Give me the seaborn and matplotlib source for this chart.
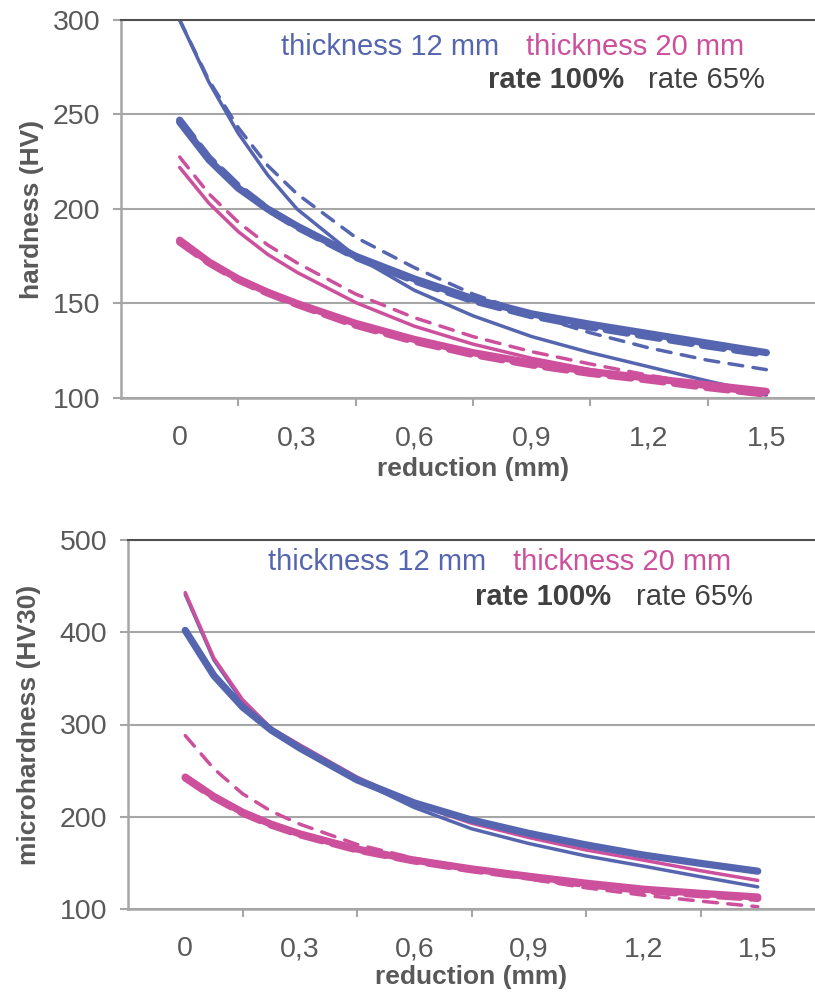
import seaborn as sns
import matplotlib.pyplot as plt
from matplotlib.ticker import FixedLocator

reduction = [0, 0.075, 0.15, 0.225, 0.3, 0.45, 0.6, 0.75, 0.9, 1.05, 1.2, 1.35, 1.5]

# hardness (HV), upper panel
hv_12_r100 = [246, 226, 211, 200, 191, 175, 163, 152.5, 144.5, 139, 134, 129, 124]
hv_12_r100_d = [247, 227, 212, 200, 190.5, 174.5, 162, 151.5, 143.5, 137.5, 132.5, 127.5, 123]
hv_12_r65 = [300, 267, 240, 218, 200, 175, 157, 143.5, 132.5, 124, 116.5, 109, 102]
hv_12_r65_d = [300, 268, 243, 223, 208, 185, 169, 155, 144, 134.5, 126.5, 120, 115]
hv_20_r100 = [183.5, 172, 163, 156, 150, 139.5, 131, 124, 118.5, 114, 110.5, 107, 103.5]
hv_20_r100_d = [182.5, 171.5, 162.5, 155.5, 149.5, 138.5, 130, 123, 117.5, 113, 109.5, 105.5, 102]
hv_20_r65 = [222, 203, 188, 176, 166.5, 150.5, 138, 128.5, 121, 115, 110, 105.5, 101.5]
hv_20_r65_d = [227.5, 208, 193, 181, 171.5, 155, 142.5, 132.5, 124.5, 118, 112, 107, 102.5]

# microhardness (HV30), lower panel
mhv_12_r100 = [402, 353, 319, 294, 274.5, 240, 215, 196.5, 182, 169.5, 158.5, 149.5, 141]
mhv_12_r65 = [441, 370, 325, 295, 276, 240, 210, 187, 171, 157.5, 146.5, 135, 124]
mhv_20_r100 = [243, 222, 205, 192, 181.5, 165, 153, 143.5, 135.5, 128, 121.5, 117, 113]
mhv_20_r100_d = [242, 221, 204, 191, 180.5, 164, 152, 142.5, 134.5, 126.5, 120, 115.5, 111.5]
mhv_20_r65 = [443, 372, 327, 296, 278, 243, 214, 193, 177.5, 164, 153, 141.5, 131]
mhv_20_r65_d = [288, 252, 225, 206, 192, 170, 155, 143, 132.5, 123, 115, 108.5, 102.5]

x_ticks = [0, 0.3, 0.6, 0.9, 1.2, 1.5]
x_labels = ["0", "0,3", "0,6", "0,9", "1,2", "1,5"]

BLUE = "#5565B0"
PINK = "#CC509C"
GRID = "#A6A6A6"
TXT = "#595959"
THICK = 5.2
THIN = 2.5

sns.set_style("white")
plt.rcParams['font.family'] = ['Liberation Sans', 'DejaVu Sans']

fig = plt.figure(figsize=(8.15, 9.92), dpi=100)
ax1 = fig.add_axes([121 / 815, 1 - 398 / 992, 704 / 815, 378 / 992])
ax2 = fig.add_axes([128 / 815, 1 - 909 / 992, 687 / 815, 369 / 992])


def draw(ax, y, color, lw, dashed):
    ls = '-'
    if dashed:
        ls = (0, (3, 1.5)) if lw == THICK else (0, (4, 3))
    sns.lineplot(x=reduction, y=y, ax=ax, color=color, lw=lw, linestyle=ls,
                 sort=False, estimator=None, solid_capstyle='round',
                 dash_capstyle='round', solid_joinstyle='round', legend=False)


# upper panel
draw(ax1, hv_20_r65_d, PINK, THIN, True)
draw(ax1, hv_20_r65, PINK, THIN, False)
draw(ax1, hv_12_r65_d, BLUE, THIN, True)
draw(ax1, hv_12_r65, BLUE, THIN, False)
draw(ax1, hv_20_r100, PINK, THICK, False)
draw(ax1, hv_20_r100_d, PINK, THICK, True)
draw(ax1, hv_12_r100, BLUE, THICK, False)
draw(ax1, hv_12_r100_d, BLUE, THICK, True)

# lower panel
draw(ax2, mhv_20_r65_d, PINK, THIN, True)
draw(ax2, mhv_20_r100, PINK, THICK, False)
draw(ax2, mhv_20_r100_d, PINK, THICK, True)
draw(ax2, mhv_12_r65, BLUE, THIN, False)
draw(ax2, mhv_20_r65, PINK, THIN, False)
draw(ax2, mhv_12_r100, BLUE, THICK, False)


def style(ax, ylim, ystep, ylabel, ylab_x, xlab_y):
    ax.set_xlim(-0.15, 1.65)
    ax.set_ylim(*ylim)
    ax.set_yticks(range(ylim[0], ylim[1] + 1, ystep))
    ax.set_xticks(x_ticks)
    ax.set_xticklabels(x_labels)
    ax.xaxis.set_minor_locator(FixedLocator([0.15, 0.45, 0.75, 1.05, 1.35]))
    ax.grid(True, axis='y', color=GRID, lw=1.5, zorder=0)
    ax.set_axisbelow(True)
    ax.tick_params(axis='x', which='major', length=0, pad=19.5, labelsize=20.5, labelcolor=TXT)
    ax.tick_params(axis='x', which='minor', bottom=True, length=6, width=1.5, color=GRID)
    ax.tick_params(axis='y', left=True, length=6, width=1.5, color=GRID, pad=9,
                   labelsize=20.5, labelcolor=TXT)
    for s in ['left', 'bottom']:
        ax.spines[s].set_color(GRID)
        ax.spines[s].set_linewidth(1.8)
    ax.spines['top'].set_color('#505050')
    ax.spines['top'].set_linewidth(1.5)
    ax.spines['right'].set_visible(False)
    ax.set_xlabel("reduction (mm)", fontsize=19, fontweight='bold', color=TXT)
    ax.set_ylabel(ylabel, fontsize=19, fontweight='bold', color=TXT)
    ax.yaxis.set_label_coords(ylab_x, 0.5)
    ax.xaxis.set_label_coords(0.5, xlab_y)


style(ax1, (100, 300), 50, "hardness (HV)", -0.11, -0.155)
style(ax2, (100, 500), 100, "microhardness (HV30)", -0.126, -0.152)


def legend_text(ax, x12, x20, xr100, xr65, y1, y2):
    kw = dict(transform=ax.transAxes, ha='center', va='center', fontsize=21)
    ax.text(x12, y1, "thickness 12 mm", color=BLUE, **kw)
    ax.text(x20, y1, "thickness 20 mm", color=PINK, **kw)
    ax.text(xr100, y2, "rate 100%", color='#404040', fontweight='bold', **kw)
    ax.text(xr65, y2, "rate 65%", color='#404040', **kw)


legend_text(ax1, 0.382, 0.730, 0.618, 0.832, 0.9286, 0.841)
legend_text(ax2, 0.3624, 0.719, 0.604, 0.824, 0.940, 0.8455)

fig.savefig("out.png", dpi=100)
